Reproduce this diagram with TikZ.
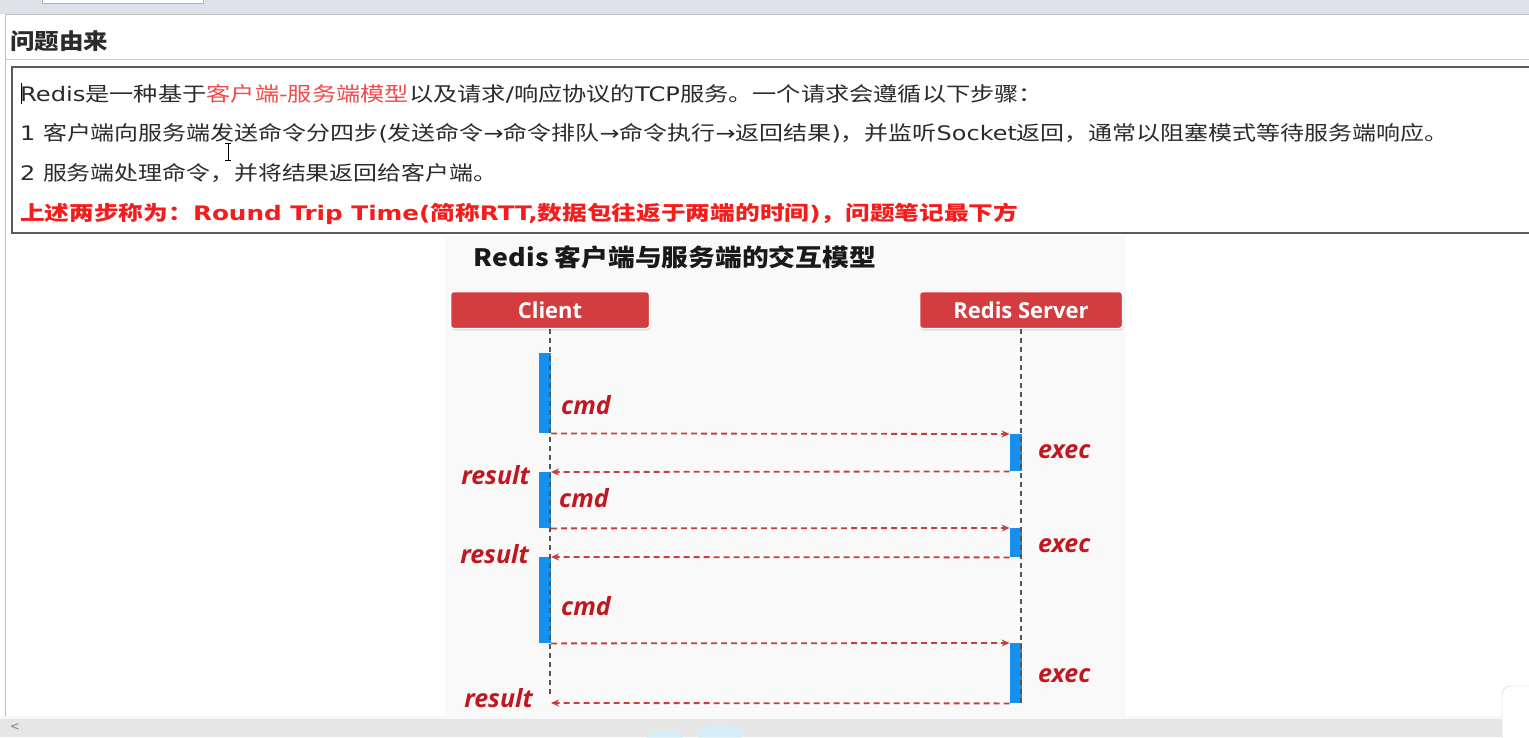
\documentclass[tikz,border=0pt]{standalone}
\usepackage{fontspec}
\setmainfont{DejaVu Sans}
\newfontfamily\cjk{Noto Sans CJK SC}[Kerning=Off]
\newfontfamily\lat{DejaVu Sans}
\newfontfamily\osans{Open Sans}
\usetikzlibrary{shadows,arrows.meta}
\definecolor{textdark}{HTML}{2B2B2B}
\definecolor{lred}{HTML}{EF4B4B}
\definecolor{bred}{HTML}{F51C1C}
\definecolor{boxred}{HTML}{D43D3F}
\definecolor{barblue}{HTML}{1590EF}
\definecolor{arrred}{HTML}{C4403C}
\definecolor{lifegray}{HTML}{555555}
\definecolor{lblred}{HTML}{BF1820}
\definecolor{topgray}{HTML}{DDE2EA}
\definecolor{framegray}{HTML}{5A5A5A}
\definecolor{diagbg}{HTML}{F9F9F9}
\definecolor{botgray}{HTML}{E6E6E6}
\tikzset{
  rbox/.style={fill=boxred, draw=white, line width=1.5pt, rounded corners=3pt,
    drop shadow={shadow xshift=0.8pt, shadow yshift=-1.8pt, opacity=0.35},
    text=white, font=\osans\bfseries\fontsize{22}{25}\selectfont,
    minimum width=199pt, minimum height=37pt, inner sep=0pt},
  bar/.style={fill=barblue, minimum width=12pt, inner sep=0pt, anchor=north east},
  msg/.style={draw=arrred, line width=1.8pt, dash pattern=on 6pt off 4pt,
    -{Stealth[length=8pt,width=7pt]}},
  life/.style={draw=lifegray, line width=1.8pt, dash pattern=on 5pt off 4pt},
  lbl/.style={text=lblred, font=\osans\bfseries\itshape\fontsize{25}{29}\selectfont, inner sep=0pt},
  bodyline/.style={anchor=base west, inner sep=0pt, text=textdark, font=\fontsize{20}{24}\selectfont},
}
\begin{document}
\begin{tikzpicture}[x=1pt,y={(0pt,-1pt)}]
\useasboundingbox (0,0) rectangle (1529,737);
\fill[white] (0,0) rectangle (1529,737);
% window chrome
\fill[topgray] (0,0) rectangle (1529,14);
\fill[white!92!topgray] (42,0) rectangle (203,3);
\draw[gray!60] (42,0) -- (42,3) -- (203,3) -- (203,0);
\draw[gray!50, line width=1pt] (5,14) -- (1529,14);
\draw[gray!50, line width=1pt] (5,14) -- (5,716);
\draw[gray!40, line width=1pt] (5,59) -- (1529,59);
\node[anchor=base west, inner sep=0pt, text=textdark, font=\fontsize{22}{26}\selectfont] (hdr) at (10,49)
  {\resizebox{98pt}{\height}{\cjk\bfseries 问题由来}};
% text box
\draw[framegray, line width=1.8pt] (12,67) rectangle (1545,233);
\draw[black, line width=1pt] (21,83) -- (21,104);
\node[bodyline] (l1) at (20,101) {\resizebox{1023pt}{\height}{%
  {\lat Redis}{\cjk 是一种基于}{\color{lred}\cjk 客户端}{\color{lred}\lat -}{\color{lred}\cjk 服务端模型}{\cjk 以及请求}{\lat /}{\cjk 响应协议的}{\lat TCP}{\cjk 服务。一个请求会遵循以下步骤：}}};
\node[bodyline] (l2) at (20,140) {\resizebox{1428pt}{\height}{%
  {\lat 1 }{\cjk 客户端向服务端发送命令分四步}{\lat (}{\cjk 发送命令}{\lat →}{\cjk 命令排队}{\lat →}{\cjk 命令执行}{\lat →}{\cjk 返回结果}{\lat )}{\cjk ，并监听}{\lat Socket}{\cjk 返回，通常以阻塞模式等待服务端响应。}}};
\node[bodyline] (l3) at (20,180) {\resizebox{477pt}{\height}{%
  {\lat 2 }{\cjk 服务端处理命令，并将结果返回给客户端。}}};
\node[bodyline, text=bred] (l4) at (20,220) {\resizebox{998pt}{\height}{\bfseries
  {\cjk 上述两步称为：}{\lat Round Trip Time(}{\cjk 简称}{\lat RTT,}{\cjk 数据包往返于两端的时间}{\lat )}{\cjk ，问题笔记最下方}}};
% I-beam cursor
\draw[black, line width=1pt] (228,143) -- (228,160) (225,143) -- (231,143) (225,160) -- (231,160);
% diagram background
\fill[diagbg] (445,236) rectangle (1126,716);
\node[anchor=base, inner sep=0pt, text=black!90, font=\fontsize{24}{28}\selectfont] (title) at (675,266)
  {\resizebox{402pt}{\height}{\cjk\bfseries Redis 客户端与服务端的交互模型}};
\node[rbox] (client) at (550,310) {Client};
\node[rbox, minimum width=203pt] (server) at (1021,310) {Redis Server};
% activation bars
\node[bar, minimum height=80pt] (c1) at (551,353) {};
\node[bar, minimum height=56pt] (c2) at (551,472) {};
\node[bar, minimum height=86pt] (c3) at (551,557) {};
\node[bar, minimum height=37pt] (s1) at (1022,434) {};
\node[bar, minimum height=29pt] (s2) at (1022,528) {};
\node[bar, minimum height=60pt] (s3) at (1022,643) {};
% lifelines
\coordinate (cend) at (550,698);
\coordinate (send) at (1021,705);
\coordinate (r3) at (551,703);
\draw[life] (client.south) -- (cend);
\draw[life] (server.south) -- (send);
% messages
\draw[msg] (c1.south east) -- (s1.north west);
\draw[msg] (s1.south west) -- (c2.north east);
\draw[msg] (c2.south east) -- (s2.north west);
\draw[msg] (s2.south west) -- (c3.north east);
\draw[msg] (c3.south east) -- (s3.north west);
\draw[msg] (s3.south west) -- (r3);
% labels
\node[lbl, anchor=base west] (cmd1) at (561,414) {cmd};
\node[lbl, anchor=base west] (cmd2) at (559,507) {cmd};
\node[lbl, anchor=base west] (cmd3) at (561,615) {cmd};
\node[lbl, anchor=base west] (exec1) at (1038,458) {exec};
\node[lbl, anchor=base west] (exec2) at (1038,552) {exec};
\node[lbl, anchor=base west] (exec3) at (1038,682) {exec};
\node[lbl, anchor=base east] (res1) at (530,484) {result};
\node[lbl, anchor=base east] (res2) at (529,563) {result};
\node[lbl, anchor=base east] (res3) at (533,707) {result};
% bottom bar
\fill[botgray] (0,716) rectangle (1529,737);
\fill[white!70!botgray] (0,716) rectangle (1529,719);
\fill[blue!25!cyan!20, opacity=0.6] (665,737) ellipse (18pt and 7pt);
\fill[blue!25!cyan!20, opacity=0.6] (720,735) ellipse (22pt and 10pt);
\node[anchor=center, inner sep=0pt, text=gray, font=\lat\fontsize{12}{14}\selectfont] (scrl) at (15,727) {<};
\draw[gray!40, fill=white, rounded corners=8pt] (1502,686) rectangle (1545,745);
\fill[white] (1522,677) circle (4pt);
\end{tikzpicture}
\end{document}
